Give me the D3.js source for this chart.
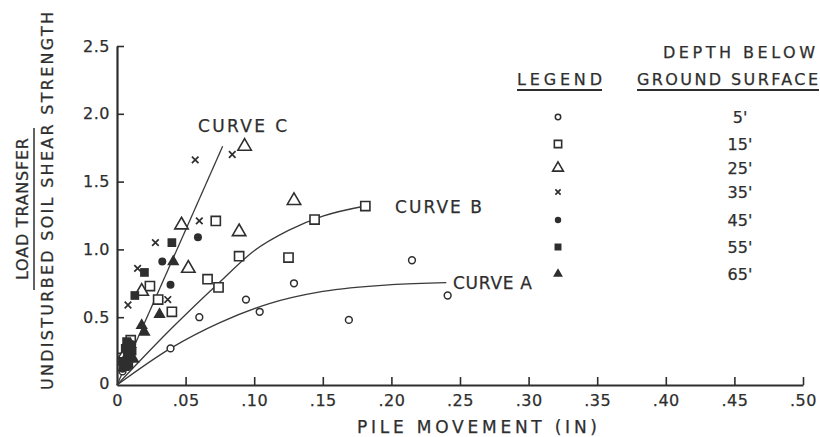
<!DOCTYPE html>
<html>
<head>
<meta charset="utf-8">
<script src="https://cdn.jsdelivr.net/npm/d3@7"></script>
<style>
  html, body { margin: 0; padding: 0; background: #fff; }
  svg { display: block; }
  text { font-family: "DejaVu Sans", sans-serif; fill: #2e2e2e; stroke: #2e2e2e; stroke-width: 0.25px; }
</style>
</head>
<body>
<svg id="chart" width="820" height="437"></svg>
<script>
// Pile movement (in) vs. load transfer / undisturbed soil shear strength, by depth
const xTicks = [0, 0.05, 0.10, 0.15, 0.20, 0.25, 0.30, 0.35, 0.40, 0.45, 0.50];
const yTicks = [0, 0.5, 1.0, 1.5, 2.0, 2.5];

const depthLabels = ["5'", "15'", "25'", "35'", "45'", "55'", "65'"];
const depthSymbols = ["circle", "square", "triangle", "cross", "dot", "block", "wedge"];

const depth5 = [[0.039,0.27],[0.060,0.50],[0.094,0.63],[0.104,0.54],[0.129,0.75],[0.169,0.48],[0.215,0.92],[0.241,0.66],[0.004,0.10],[0.009,0.17]];
const depth15 = [[0.181,1.32],[0.144,1.22],[0.125,0.94],[0.089,0.95],[0.072,1.21],[0.066,0.78],[0.074,0.72],[0.024,0.73],[0.030,0.63],[0.040,0.54],[0.010,0.33],[0.004,0.20],[0.008,0.27]];
const depth25 = [[0.093,1.76],[0.129,1.36],[0.089,1.13],[0.047,1.18],[0.052,0.86],[0.018,0.69],[0.006,0.23]];
const depth35 = [[0.057,1.66],[0.084,1.70],[0.060,1.21],[0.028,1.05],[0.015,0.86],[0.008,0.59],[0.037,0.63],[0.005,0.15]];
const depth45 = [[0.059,1.09],[0.033,0.91],[0.039,0.74],[0.007,0.24],[0.004,0.12],[0.011,0.30],[0.009,0.14]];
const depth55 = [[0.040,1.05],[0.020,0.83],[0.013,0.66],[0.006,0.27],[0.009,0.20],[0.004,0.17],[0.011,0.25],[0.007,0.32]];
const depth65 = [[0.031,0.52],[0.041,0.91],[0.018,0.44],[0.020,0.39],[0.008,0.23],[0.005,0.13],[0.010,0.30],[0.012,0.19]];

// fitted trend curves
const curveA = [[0,0],[0.039,0.27],[0.075,0.46],[0.111,0.60],[0.150,0.69],[0.200,0.74],[0.240,0.755]];
const curveB = [[0,0],[0.040,0.42],[0.075,0.76],[0.100,0.99],[0.125,1.14],[0.150,1.245],[0.181,1.32]];
const curveC = [[0,0],[0.077,1.76]];

const svg = d3.select("#chart");
const ink = "#2e2e2e";

const x = d3.scaleLinear().domain([0, 0.5]).range([117, 803]);
const y = d3.scaleLinear().domain([0, 2.5]).range([385, 46]);

// ---- axes ----
const fmtX = d => d === 0 ? "0" : d3.format(".2f")(d).replace(/^0/, "");
const fmtY = d => d === 0 ? "0" : d3.format(".1f")(d);

const xAxis = svg.append("g")
  .attr("transform", `translate(0,${y(0)})`)
  .call(d3.axisBottom(x).tickValues(xTicks).tickFormat(fmtX)
        .tickSize(-8).tickSizeOuter(0).tickPadding(10));

const yAxis = svg.append("g")
  .attr("transform", `translate(${x(0)},0)`)
  .call(d3.axisLeft(y).tickValues(yTicks).tickFormat(fmtY)
        .tickSize(-7).tickSizeOuter(0).tickPadding(7));

[xAxis, yAxis].forEach(g => {
  g.select(".domain").attr("stroke", ink).attr("stroke-width", 2.2);
  g.selectAll(".tick line").attr("stroke", ink).attr("stroke-width", 1.6);
  g.selectAll(".tick text").attr("fill", ink)
    .style("font-size", "16px").style("letter-spacing", "0.5px")
    .style("font-family", "DejaVu Sans, sans-serif");
  g.selectAll(".tick").filter(d => d === 0).select("line").remove();
});
yAxis.selectAll(".tick").filter(d => d === 0).select("text").attr("dy", "0.2em");

// ---- axis titles ----
svg.append("text")
  .attr("x", 357).attr("y", 433)
  .attr("textLength", 240).attr("lengthAdjust", "spacing")
  .style("font-size", "17px")
  .text("PILE MOVEMENT (IN)");

const yt = svg.append("g");
yt.append("text")
  .attr("transform", "translate(28,209) rotate(-90)")
  .attr("text-anchor", "middle")
  .attr("textLength", 142).attr("lengthAdjust", "spacing")
  .style("font-size", "16px")
  .text("LOAD TRANSFER");
yt.append("line")
  .attr("x1", 34).attr("x2", 34).attr("y1", 128).attr("y2", 290)
  .attr("stroke", ink).attr("stroke-width", 1.5);
yt.append("text")
  .attr("transform", "translate(53,201) rotate(-90)")
  .attr("text-anchor", "middle")
  .attr("textLength", 378).attr("lengthAdjust", "spacing")
  .style("font-size", "16px")
  .text("UNDISTURBED SOIL SHEAR STRENGTH");

// ---- trend curves ----
const line = d3.line().x(d => x(d[0])).y(d => y(d[1]));
[[curveA, d3.curveMonotoneX], [curveB, d3.curveMonotoneX], [curveC, d3.curveLinear]].forEach(([pts, c]) => {
  svg.append("path").datum(pts)
    .attr("d", line.curve(c))
    .attr("fill", "none").attr("stroke", "#3a3a3a").attr("stroke-width", 1.3);
});

const curveLabels = [
  { text: "CURVE C", x: 198, y: 132, w: 89 },
  { text: "CURVE B", x: 395, y: 213, w: 87 },
  { text: "CURVE A", x: 453, y: 289, w: 79 }
];
svg.selectAll(".curve-label").data(curveLabels).join("text")
  .attr("class", "curve-label")
  .attr("x", d => d.x).attr("y", d => d.y)
  .attr("textLength", d => d.w).attr("lengthAdjust", "spacing")
  .style("font-size", "17px")
  .text(d => d.text);

// ---- markers ----
function marker(sel, kind, s) {
  const k = s || 1;
  if (kind === "circle") {
    sel.append("circle").attr("r", 3.4 * k).attr("fill", "#fff").attr("stroke", ink).attr("stroke-width", 1.5);
  } else if (kind === "square") {
    sel.append("path").attr("d", d3.symbol(d3.symbolSquare, 84 * k * k)())
      .attr("fill", "#fff").attr("stroke", ink).attr("stroke-width", 1.6);
  } else if (kind === "triangle") {
    sel.append("path").attr("d", d3.symbol(d3.symbolTriangle, 78 * k * k)())
      .attr("fill", "#fff").attr("stroke", ink).attr("stroke-width", 1.6);
  } else if (kind === "cross") {
    const r = 3.3 * k;
    sel.append("path").attr("d", `M${-r},${-r}L${r},${r}M${r},${-r}L${-r},${r}`)
      .attr("stroke", ink).attr("stroke-width", 1.7).attr("fill", "none");
  } else if (kind === "dot") {
    sel.append("circle").attr("r", 4 * k).attr("fill", ink);
  } else if (kind === "block") {
    sel.append("path").attr("d", d3.symbol(d3.symbolSquare, 76 * k * k)()).attr("fill", ink);
  } else if (kind === "wedge") {
    sel.append("path").attr("d", d3.symbol(d3.symbolTriangle, 66 * k * k)()).attr("fill", ink);
  }
}

const seriesData = [depth5, depth15, depth25, depth35, depth45, depth55, depth65];
seriesData.forEach((pts, i) => {
  const g = svg.append("g");
  g.selectAll("g").data(pts).join("g")
    .attr("transform", d => `translate(${x(d[0])},${y(d[1])})`)
    .each(function () { marker(d3.select(this), depthSymbols[i]); });
});

// ---- legend ----
const lg = svg.append("g");
lg.append("text").attr("x", 517).attr("y", 85)
  .attr("textLength", 85).attr("lengthAdjust", "spacing")
  .style("font-size", "16px").text("LEGEND");
lg.append("line").attr("x1", 517).attr("x2", 602).attr("y1", 90).attr("y2", 90)
  .attr("stroke", ink).attr("stroke-width", 1.8);
lg.append("text").attr("x", 663).attr("y", 58)
  .attr("textLength", 152).attr("lengthAdjust", "spacing")
  .style("font-size", "16px").text("DEPTH BELOW");
lg.append("text").attr("x", 637).attr("y", 85)
  .attr("textLength", 181).attr("lengthAdjust", "spacing")
  .style("font-size", "16px").text("GROUND SURFACE");
lg.append("line").attr("x1", 637).attr("x2", 819).attr("y1", 90).attr("y2", 90)
  .attr("stroke", ink).attr("stroke-width", 1.8);

const rowY = [117, 144, 168, 192, 220, 247, 274];
depthLabels.forEach((lab, i) => {
  const row = lg.append("g").attr("transform", `translate(558,${rowY[i]})`);
  marker(row, depthSymbols[i], 0.8);
  lg.append("text").attr("x", 740).attr("y", rowY[i] + 6)
    .attr("text-anchor", "middle")
    .style("font-size", "16px")
    .text(lab);
});
</script>
</body>
</html>
